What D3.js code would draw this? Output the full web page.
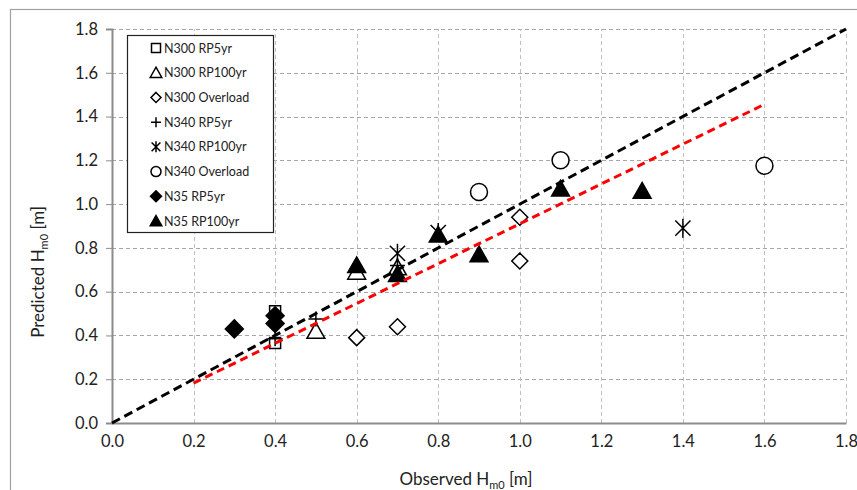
<!DOCTYPE html>
<html><head><meta charset="utf-8">
<script src="https://cdn.jsdelivr.net/npm/d3@7"></script>
<style>
html,body{margin:0;padding:0;background:#fff;}
svg text{font-family:Lato,"Open Sans",sans-serif;fill:#222;}
</style></head>
<body><svg id="c" width="857" height="490"></svg>
<script>
// ---- data ----
const seriesNames = ["N300 RP5yr","N300 RP100yr","N300 Overload","N340 RP5yr","N340 RP100yr","N340 Overload","N35 RP5yr","N35 RP100yr"];
const n300rp5   = [[0.4,0.51],[0.4,0.365]];
const n300rp100 = [[0.5,0.42],[0.6,0.69],[0.7,0.71]];
const n300over  = [[0.6,0.39],[0.7,0.44],[1.0,0.94],[1.0,0.74]];
const n340rp5   = [[0.4,0.385],[0.5,0.475],[0.7,0.72]];
const n340rp100 = [[0.7,0.775],[0.8,0.87],[1.4,0.89]];
const n340over  = [[0.9,1.055],[1.1,1.20],[1.6,1.175]];
const n35rp5    = [[0.3,0.43],[0.4,0.49],[0.4,0.455]];
const n35rp100  = [[0.6,0.72],[0.7,0.68],[0.8,0.86],[0.9,0.77],[1.1,1.07],[1.3,1.06]];
const perfectLine = [[0,0],[1.8,1.8]];
const fitX = [0.2,1.6];
const fitSlope = 0.91;
const ticks = [0,0.2,0.4,0.6,0.8,1.0,1.2,1.4,1.6,1.8];

// ---- symbols ----
const sq = {draw(c,s){const h=s/2;c.moveTo(-h,-h);c.lineTo(h,-h);c.lineTo(h,h);c.lineTo(-h,h);c.closePath();}};
const tri = {draw(c,s){const h=s/2;c.moveTo(0,-h);c.lineTo(h*1.05,h*0.85);c.lineTo(-h*1.05,h*0.85);c.closePath();}};
const dia = {draw(c,s){const h=s/2;c.moveTo(0,-h);c.lineTo(h,0);c.lineTo(0,h);c.lineTo(-h,0);c.closePath();}};
const plus = {draw(c,s){const h=s/2;c.moveTo(-h,0);c.lineTo(h,0);c.moveTo(0,-h);c.lineTo(0,h);}};
const star = {draw(c,s){const h=s/2;c.moveTo(-h*0.8,-h*0.8);c.lineTo(h*0.8,h*0.8);c.moveTo(h*0.8,-h*0.8);c.lineTo(-h*0.8,h*0.8);c.moveTo(0,-h);c.lineTo(0,h);}};
const circ = {draw(c,s){c.moveTo(s/2,0);c.arc(0,0,s/2,0,2*Math.PI);}};

const defs = [
 {data:n300rp5,  sym:sq,  size:11, fill:"#fff", leg:9},
 {data:n300rp100,sym:tri, size:17, fill:"#fff", leg:11},
 {data:n300over, sym:dia, size:16, fill:"#fff", leg:10},
 {data:n340rp5,  sym:plus,size:15, fill:"none", leg:10},
 {data:n340rp100,sym:star,size:19, fill:"none", leg:11},
 {data:n340over, sym:circ,size:17, fill:"#fff", leg:10},
 {data:n35rp5,   sym:dia, size:18, fill:"#000", leg:11},
 {data:n35rp100, sym:tri, size:17, fill:"#000", leg:11}
];

const svg = d3.select("#c");
const x = d3.scaleLinear().domain([0,1.8]).range([112,846]);
const y = d3.scaleLinear().domain([0,1.8]).range([423,29]);

// outer frame
svg.append("rect").attr("x",10.5).attr("y",9.5).attr("width",900).attr("height",600)
  .attr("fill","none").attr("stroke","#a0a0a0").attr("stroke-width",1.2);

// grid
const g = svg.append("g");
g.selectAll(".gh").data(ticks.slice(1)).join("line")
  .attr("x1",x(0)).attr("x2",x(1.8)).attr("y1",d=>Math.round(y(d))+0.5).attr("y2",d=>Math.round(y(d))+0.5)
  .attr("stroke","#a6a6a6").attr("stroke-dasharray","4,3").attr("stroke-width",1);
g.selectAll(".gv").data(ticks.slice(1)).join("line")
  .attr("y1",y(0)).attr("y2",y(1.8)).attr("x1",d=>Math.round(x(d))+0.5).attr("x2",d=>Math.round(x(d))+0.5)
  .attr("stroke","#c0c0c0").attr("stroke-dasharray","4,3").attr("stroke-width",1);

// axes
const ya = svg.append("g").attr("transform",`translate(${x(0)},0)`)
  .call(d3.axisLeft(y).tickValues(ticks).tickFormat(d3.format(".1f")).tickSize(6).tickPadding(8));
const xa = svg.append("g").attr("transform",`translate(0,${y(0)})`)
  .call(d3.axisBottom(x).tickValues(ticks).tickFormat(d3.format(".1f")).tickSize(0).tickPadding(12));
[ya,xa].forEach(a=>{
  a.select(".domain").attr("stroke","#8c8c8c").attr("stroke-width",2);
  a.selectAll(".tick line").attr("stroke","#8c8c8c");
  a.selectAll(".tick text").attr("font-size",16.5).style("fill","#222");
});

// markers
defs.forEach(d=>{
  svg.append("g").selectAll("path").data(d.data).join("path")
    .attr("transform",p=>`translate(${x(p[0])},${y(p[1])})`)
    .attr("d",d3.symbol().type(d.sym).size(d.size))
    .attr("fill",d.fill).attr("stroke","#000").attr("stroke-width",1.5);
});

// lines
const line = d3.line().x(p=>x(p[0])).y(p=>y(p[1]));
svg.append("path").attr("d",line(perfectLine)).attr("fill","none")
  .attr("stroke","#000").attr("stroke-width",3).attr("stroke-dasharray","9,5");
svg.append("path").attr("d",line(fitX.map(v=>[v,v*fitSlope]))).attr("fill","none")
  .attr("stroke","#ff0000").attr("stroke-width",3).attr("stroke-dasharray","8,5");

// legend
const lg = svg.append("g");
lg.append("rect").attr("x",127.5).attr("y",35.5).attr("width",146).attr("height",197)
  .attr("fill","#fff").attr("stroke","#222").attr("stroke-width",1.2);
const ly = d3.scaleLinear().domain([0,7]).range([48,221]);
seriesNames.forEach((n,i)=>{
  const d = defs[i];
  lg.append("path").attr("transform",`translate(156,${ly(i)})`)
    .attr("d",d3.symbol().type(d.sym).size(d.leg))
    .attr("fill",d.fill).attr("stroke","#000").attr("stroke-width",1.5);
  lg.append("text").attr("x",164).attr("y",ly(i)+4.5).attr("font-size",12.5).text(n);
});

// axis titles
const xt = svg.append("text").attr("x",466).attr("y",485).attr("text-anchor","middle").attr("font-size",17);
xt.append("tspan").text("Observed H");
xt.append("tspan").attr("font-size",11).attr("dy",4).text("m0");
xt.append("tspan").attr("dy",-4).text(" [m]");
const yt = svg.append("text").attr("transform","translate(44,272) rotate(-90)").attr("text-anchor","middle").attr("font-size",17);
yt.append("tspan").text("Predicted H");
yt.append("tspan").attr("font-size",11).attr("dy",4).text("m0");
yt.append("tspan").attr("dy",-4).text(" [m]");
</script></body></html>
